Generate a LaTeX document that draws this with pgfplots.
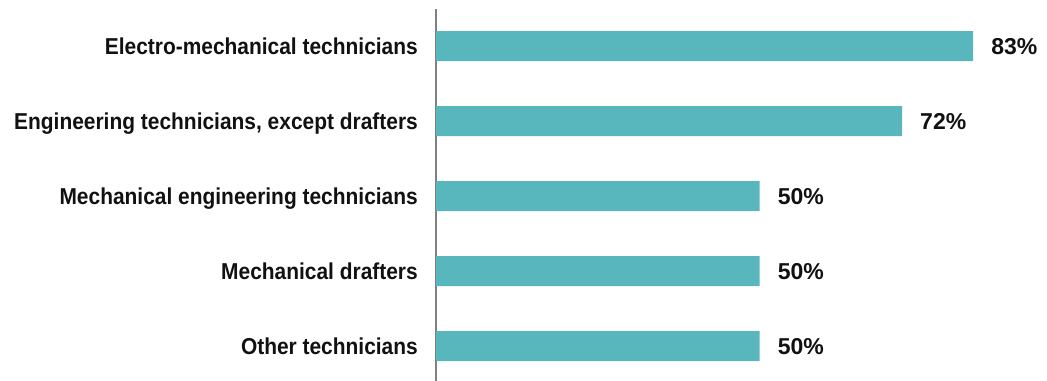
\documentclass[border=0pt]{standalone}
\usepackage{fontspec}
\setmainfont{Liberation Sans}
\newfontfamily\condfont[FakeStretch=0.91]{Liberation Sans}
\usepackage{pgfplots}
\pgfplotsset{compat=1.18}
\definecolor{barcol}{HTML}{58B7BC}
\definecolor{axcol}{HTML}{808080}
\definecolor{txt}{HTML}{111111}
\begin{document}
\begin{tikzpicture}
\begin{axis}[
  name=ax,
  at={(436bp,-9bp)}, anchor=north west,
  scale only axis,
  width=611bp, height=372bp,
  xbar, bar width=0.4,
  xmin=0, xmax=94.4,
  y dir=reverse,
  ymin=-0.4933, ymax=4.4667,
  axis y line*=left,
  axis x line=none,
  axis line style={draw=axcol, line width=1.3bp},
  xtick=\empty,
  ytick={0,1,2,3,4},
  yticklabels={Electro-mechanical technicians,{Engineering technicians, except drafters},Mechanical engineering technicians,Mechanical drafters,Other technicians},
  major tick length=0pt,
  yticklabel style={font=\condfont\bfseries\fontsize{23bp}{27bp}\selectfont, text=txt, inner sep=0pt, anchor=base east, xshift=-18bp, yshift=-8.3bp},
  /pgf/number format/assume math mode=true,
  nodes near coords={\pgfmathprintnumber{\pgfplotspointmeta}\%},
  nodes near coords style={font=\bfseries\fontsize{23bp}{27bp}\selectfont, text=txt, anchor=base west, inner sep=0pt, xshift=18bp, yshift=-8.5bp},
  point meta=x,
  clip=false,
]
\addplot[fill=barcol, draw=none] coordinates {(83,0) (72,1) (50,2) (50,3) (50,4)};
\end{axis}
\pgfresetboundingbox
\path (0,0) rectangle (1047bp,-381bp);
\end{tikzpicture}
\end{document}
